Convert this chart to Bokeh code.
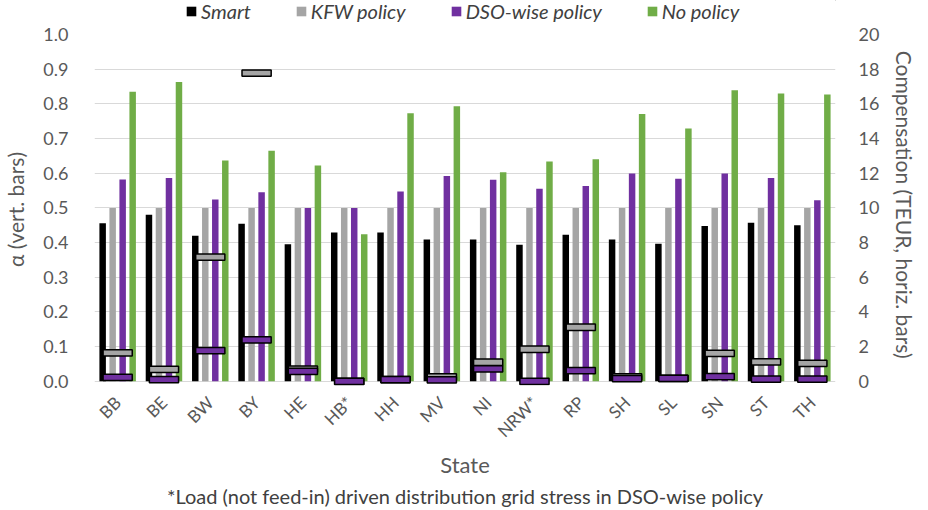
from bokeh.plotting import figure
from bokeh.models import (FactorRange, Range1d, LinearAxis, FixedTicker, NumeralTickFormatter,
                          Legend, LegendItem, Title, ColumnDataSource)
from bokeh.layouts import column
from bokeh.transform import dodge
from bokeh.embed import file_html
from bokeh.resources import INLINE
import math

states = ["BB", "BE", "BW", "BY", "HE", "HB*", "HH", "MV", "NI", "NRW*", "RP", "SH", "SL", "SN", "ST", "TH"]

# alpha values (vertical bars, left axis)
alpha_smart = [0.456, 0.480, 0.420, 0.454, 0.395, 0.429, 0.429, 0.409, 0.409, 0.394, 0.423, 0.409, 0.397, 0.448, 0.457, 0.450]
alpha_kfw = [0.5, 0.5, 0.5, 0.5, 0.5, 0.5, 0.5, 0.5, 0.5, 0.5, 0.5, 0.5, 0.5, 0.5, 0.5, 0.5]
alpha_dso = [0.582, 0.586, 0.524, 0.545, 0.500, 0.500, 0.547, 0.592, 0.581, 0.555, 0.563, 0.599, 0.584, 0.599, 0.586, 0.522]
alpha_nopol = [0.835, 0.863, 0.637, 0.665, 0.622, 0.424, 0.773, 0.793, 0.603, 0.634, 0.640, 0.771, 0.729, 0.839, 0.830, 0.827]

# compensation in TEUR (horizontal bars, right axis)
comp_kfw = [1.64, 0.69, 7.16, 17.77, 0.70, 0.0, 0.10, 0.26, 1.10, 1.85, 3.12, 0.26, 0.17, 1.61, 1.12, 1.04]
comp_dso = [0.23, 0.10, 1.77, 2.39, 0.58, 0.0, 0.10, 0.08, 0.72, 0.0, 0.62, 0.16, 0.17, 0.27, 0.13, 0.13]

left_ticks = [0.0, 0.1, 0.2, 0.3, 0.4, 0.5, 0.6, 0.7, 0.8, 0.9, 1.0]
right_ticks = [0, 2, 4, 6, 8, 10, 12, 14, 16, 18, 20]
series_names = ["Smart", "KFW policy", "DSO-wise policy", "No policy"]

C_SMART = "#000000"
C_KFW = "#a5a5a5"
C_DSO = "#7030a0"
C_NOPOL = "#70ad47"
COLORS = [C_SMART, C_KFW, C_DSO, C_NOPOL]
FONT = "Lato"
TXT = "#595959"

src = ColumnDataSource(dict(state=states, smart=alpha_smart, kfw=alpha_kfw, dso=alpha_dso,
                            nopol=alpha_nopol, ckfw=comp_kfw, cdso=comp_dso))

# ---------- legend strip (separate small figure above the chart) ----------
lg = figure(width=920, height=24, output_backend="svg", toolbar_location=None,
            x_range=Range1d(0, 1), y_range=Range1d(0, 1),
            x_axis_location=None, y_axis_location=None,
            min_border_left=86, min_border_right=85, min_border_top=0, min_border_bottom=0)
lg.outline_line_color = None
lg.xgrid.grid_line_color = None
lg.ygrid.grid_line_color = None
items = []
for name, col in zip(series_names, COLORS):
    # a single off-range point so the legend swatch gets drawn; the bar itself is clipped
    r = lg.vbar(x=[5], top=[5], bottom=[4], width=0.1, fill_color=col, line_color=None)
    items.append(LegendItem(label=name, renderers=[r]))
legend = Legend(items=items, orientation="horizontal", location=(91, 1),
                label_text_font=FONT, label_text_font_style="italic", label_text_font_size="20px",
                label_text_color="#404040", glyph_width=12, glyph_height=12, label_standoff=4,
                label_height=20, spacing=44, padding=0, margin=0,
                border_line_color=None, background_fill_alpha=0)
lg.add_layout(legend)

# ---------- main chart ----------
p = figure(width=920, height=486, output_backend="svg", toolbar_location=None,
           x_range=FactorRange(factors=states), y_range=Range1d(-0.012, 1.0),
           min_border_left=86, min_border_right=85, min_border_top=10, min_border_bottom=125)
p.outline_line_color = None
p.extra_y_ranges = {"comp": Range1d(-0.24, 20)}

bw = 0.14
p.vbar(x=dodge("state", -0.324, range=p.x_range), top="smart", width=bw, source=src,
       fill_color=C_SMART, line_color=None)
p.vbar(x=dodge("state", -0.108, range=p.x_range), top="kfw", width=bw, source=src,
       fill_color=C_KFW, line_color=None)
p.vbar(x=dodge("state", 0.108, range=p.x_range), top="dso", width=bw, source=src,
       fill_color=C_DSO, line_color=None)
p.vbar(x=dodge("state", 0.324, range=p.x_range), top="nopol", width=bw, source=src,
       fill_color=C_NOPOL, line_color=None)

p.rect(x="state", y="ckfw", width=0.63, height=6.3, height_units="screen", y_range_name="comp",
       source=src, fill_color=C_KFW, line_color="black", line_width=1.5)
p.rect(x="state", y="cdso", width=0.63, height=6.3, height_units="screen", y_range_name="comp",
       source=src, fill_color=C_DSO, line_color="black", line_width=1.5)

# grid
p.xgrid.grid_line_color = None
p.ygrid.grid_line_color = "#d9d9d9"
p.ygrid.grid_line_width = 1
p.ygrid.ticker = FixedTicker(ticks=left_ticks)

# left axis
ya = p.yaxis[0]
ya.ticker = FixedTicker(ticks=left_ticks)
ya.formatter = NumeralTickFormatter(format="0.0")
ya.axis_label = "α (vert. bars)"
ya.axis_label_text_font = FONT
ya.axis_label_text_font_style = "normal"
ya.axis_label_text_font_size = "21px"
ya.axis_label_text_color = TXT
ya.axis_label_standoff = 12
ya.major_label_text_font = FONT
ya.major_label_text_font_size = "18px"
ya.major_label_text_color = TXT
ya.major_label_standoff = 20
ya.axis_line_color = None
ya.major_tick_line_color = None
ya.minor_tick_line_color = None

# right axis
ra = LinearAxis(y_range_name="comp", ticker=FixedTicker(ticks=right_ticks))
ra.axis_label = "Compensation  (TEUR,  horiz. bars)"
ra.axis_label_text_font = FONT
ra.axis_label_text_font_style = "normal"
ra.axis_label_text_font_size = "21px"
ra.axis_label_text_color = TXT
ra.axis_label_standoff = 10
ra.major_label_text_font = FONT
ra.major_label_text_font_size = "18px"
ra.major_label_text_color = TXT
ra.major_label_standoff = 17
ra.axis_line_color = None
ra.major_tick_line_color = None
ra.minor_tick_line_color = None
p.add_layout(ra, "right")

# bottom axis
xa = p.xaxis[0]
xa.major_label_orientation = math.pi / 4
xa.major_label_text_font = FONT
xa.major_label_text_font_size = "17px"
xa.major_label_text_color = TXT
xa.major_label_standoff = 8
xa.axis_label = "State"
xa.axis_label_text_font = FONT
xa.axis_label_text_font_style = "normal"
xa.axis_label_text_font_size = "22px"
xa.axis_label_text_color = TXT
xa.axis_label_standoff = 0
xa.axis_line_color = None
xa.major_tick_line_color = None
xa.minor_tick_line_color = None

foot = Title(text="*Load (not feed-in) driven distribution grid stress in DSO-wise policy",
             align="center", text_font=FONT, text_font_size="20px", text_font_style="normal",
             text_color="#404040", standoff=1)
p.add_layout(foot, "below")

layout = column(lg, p, spacing=0)
open("out.html", "w").write(file_html(layout, INLINE))
